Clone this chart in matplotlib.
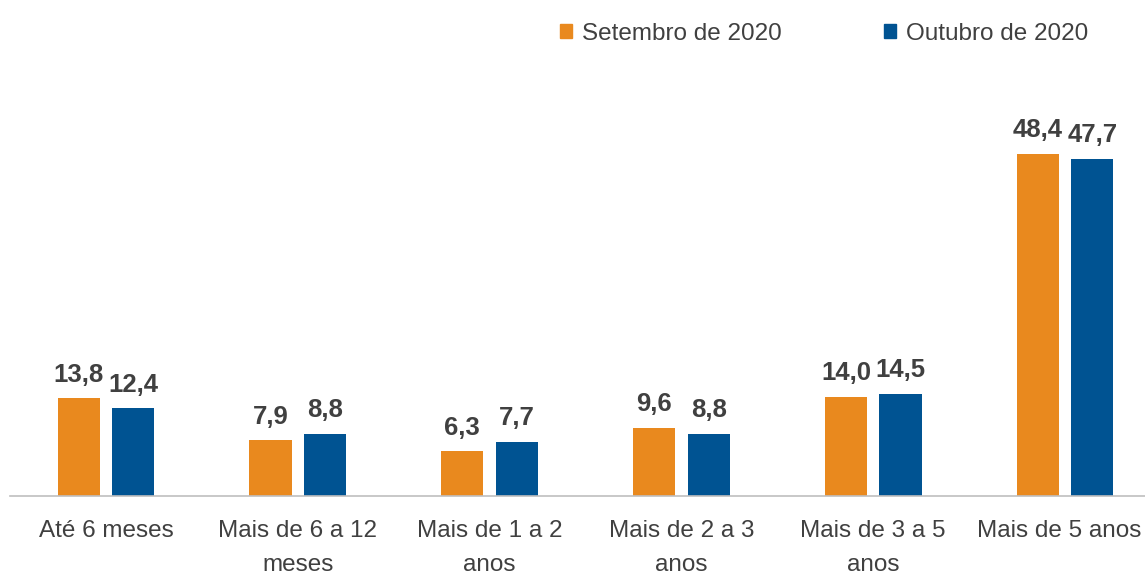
import numpy as np
import matplotlib
matplotlib.use("Agg")
import matplotlib.pyplot as plt
import matplotlib.transforms as mtransforms
from matplotlib.patches import Patch

# data
categories = ["Até 6 meses", "Mais de 6 a 12\nmeses", "Mais de 1 a 2\nanos",
              "Mais de 2 a 3\nanos", "Mais de 3 a 5\nanos", "Mais de 5 anos"]
setembro = [13.8, 7.9, 6.3, 9.6, 14.0, 48.4]
outubro = [12.4, 8.8, 7.7, 8.8, 14.5, 47.7]
series_names = ["Setembro de 2020", "Outubro de 2020"]

orange = "#E9891E"
blue = "#005392"
text_col = "#404040"

plt.rcParams["font.family"] = ["Liberation Sans Narrow", "Liberation Sans", "DejaVu Sans"]

fig = plt.figure(figsize=(11.45, 5.77), dpi=100)
ax = fig.add_axes([10 / 1145, 81 / 577, 1151 / 1145, 424 / 577])

x = np.arange(len(categories))
w = 0.22
off = 0.142
b1 = ax.bar(x - off, setembro, w, color=orange)
b2 = ax.bar(x + off, outubro, w, color=blue)

# value labels
for bars, vals in [(b1, setembro), (b2, outubro)]:
    for bar, v in zip(bars, vals):
        ax.annotate(f"{v:.1f}".replace(".", ","),
                    (bar.get_x() + bar.get_width() / 2, v),
                    xytext=(0, 12), textcoords="offset points",
                    ha="center", va="baseline", fontsize=18.5,
                    fontweight="bold", color=text_col)

ax.set_xlim(-0.5, len(categories) - 0.5)
ax.set_ylim(0, 60)
ax.set_xticks(x)
ax.set_xticklabels(categories, fontsize=17.5, color=text_col, linespacing=1.75)
ax.tick_params(axis="x", length=0, pad=17)
ax.set_yticks([])
for s in ["top", "right", "left"]:
    ax.spines[s].set_visible(False)
ax.spines["bottom"].set_color("#BFBFBF")
ax.spines["bottom"].set_linewidth(1.2)

# nudge the last label so it stays inside the picture
last = ax.get_xticklabels()[-1]
last.set_transform(last.get_transform() + mtransforms.ScaledTranslation(-6 / 100, 0, fig.dpi_scale_trans))

handles = [Patch(color=orange), Patch(color=blue)]
fig.legend(handles, series_names, loc="upper right", bbox_to_anchor=(1110 / 1145, 0.998),
           ncol=2, frameon=False, fontsize=17.5, handlelength=0.5, handleheight=0.5,
           handletextpad=0.4, columnspacing=4.2, labelcolor=text_col)

fig.savefig("out.png", dpi=100)
